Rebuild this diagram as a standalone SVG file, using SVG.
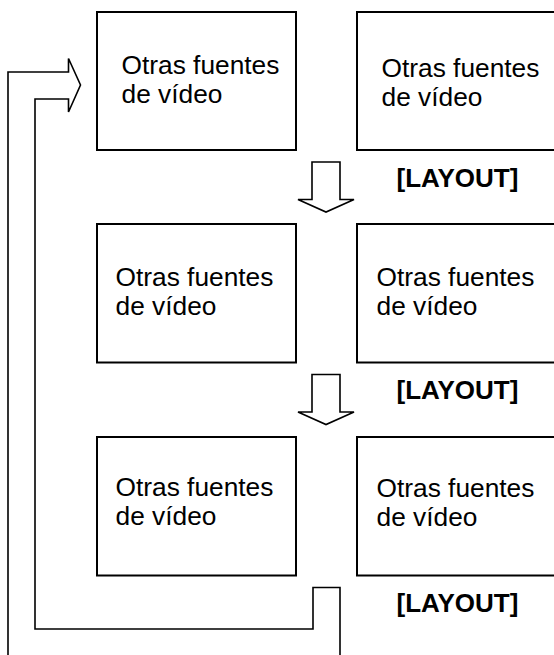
<svg xmlns="http://www.w3.org/2000/svg" width="554" height="655" viewBox="0 0 554 655">
<style>
.box{fill:#fff;stroke:#000;stroke-width:2}
.t{font-family:"Liberation Sans",Arial,sans-serif;font-size:26.3px;fill:#000}
.lay{font-family:"Liberation Sans",Arial,sans-serif;font-size:26px;font-weight:bold;fill:#000}
.arr{fill:#fff;stroke:#000;stroke-width:1.6;stroke-linejoin:miter}
</style>
<rect width="554" height="655" fill="#fff"/>
<g id="connectors">
<path class="arr" d="M312 162 L340 162 L340 199.5 L354 199.5 L326 212 L298 199.5 L312 199.5 Z"/>
<path class="arr" d="M312 374.5 L340 374.5 L340 412 L354 412 L326 424.5 L298 412 L312 412 Z"/>
<path class="arr" fill="none" d="M340 660 L340 587.5 L313 587.5 L313 629 L35 629 L35 99 L68.5 99 L68.5 112 L80.5 85 L68.5 58.5 L68.5 72 L8 72 L8 660"/>
</g>
<g id="n1"><rect class="box" x="97" y="12" width="199" height="138"/><text class="t" x="121.5" y="74">Otras fuentes</text><text class="t" x="121.5" y="103">de vídeo</text></g>
<g id="n2"><rect class="box" x="357" y="12" width="210" height="138"/><text class="t" x="381.5" y="76.5">Otras fuentes</text><text class="t" x="381.5" y="105.5">de vídeo</text></g>
<g id="l1"><text class="lay" x="396.5" y="187">[LAYOUT]</text></g>
<g id="n3"><rect class="box" x="97" y="224" width="199" height="138.5"/><text class="t" x="115.5" y="286">Otras fuentes</text><text class="t" x="115.5" y="315">de vídeo</text></g>
<g id="n4"><rect class="box" x="357" y="224" width="210" height="138.5"/><text class="t" x="376.5" y="286">Otras fuentes</text><text class="t" x="376.5" y="315">de vídeo</text></g>
<g id="l2"><text class="lay" x="396.5" y="399">[LAYOUT]</text></g>
<g id="n5"><rect class="box" x="97" y="437" width="199" height="138.5"/><text class="t" x="115.5" y="496">Otras fuentes</text><text class="t" x="115.5" y="525">de vídeo</text></g>
<g id="n6"><rect class="box" x="357" y="437" width="210" height="138.5"/><text class="t" x="376.5" y="497">Otras fuentes</text><text class="t" x="376.5" y="526">de vídeo</text></g>
<g id="l3"><text class="lay" x="396.5" y="612">[LAYOUT]</text></g>
</svg>
